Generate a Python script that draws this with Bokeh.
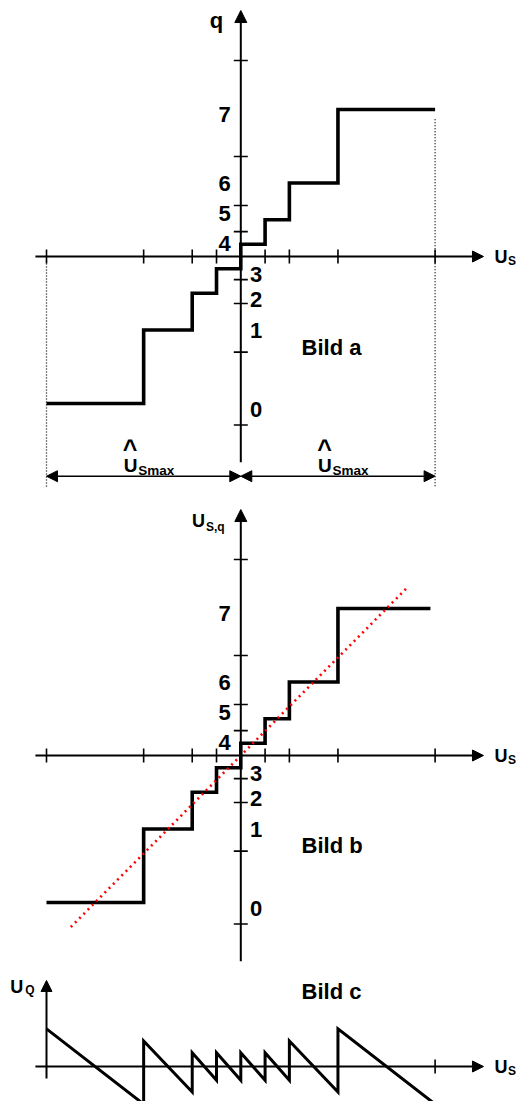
import numpy as np
from bokeh.plotting import figure
from bokeh.layouts import column
from bokeh.models import Arrow, NormalHead, Range1d
from bokeh.core.properties import value
from bokeh.embed import file_html
from bokeh.resources import INLINE

# ---- data (signal values in units of U_Smax) ----
# decision thresholds of the compressing 3-bit quantiser
edges = [-1.0, -0.5, -0.25, -0.125, 0.0, 0.125, 0.25, 0.5, 1.0]
# reconstruction level belonging to each code q = 0..7
levels = [-0.75, -0.375, -0.1875, -0.0625, 0.0625, 0.1875, 0.375, 0.75]
codes = ["0", "1", "2", "3", "4", "5", "6", "7"]
# scale marks on the vertical axis (Bild a, b)
y_marks = [1.0, 0.51, 0.26, 0.127, -0.118, -0.24, -0.488, -0.86]
# scale marks on the horizontal axis
x_marks = [-1.0, -0.5, -0.25, -0.125, 0.125, 0.25, 0.5, 1.0]
# last step of Bild b ends slightly before U_Smax
b_end = 0.976
# ideal (linear) characteristic drawn in Bild b
ideal_x = [-0.875, 0.86]
# sawtooth height of the quantisation error in every interval (Bild c)
err_amp = [0.192, 0.13, 0.07, 0.07, 0.07, 0.07, 0.13, 0.192]

# ---- drawing setup ----
W = 517
X0, SX, SY = 240.3, 194.3, 196.0       # y-axis position and pixels per unit
FONT = value("Liberation Sans")
AX_W = 2
x_rng = (-X0 / SX, (W - X0) / SX)
X_AX = (-1.057, 1.249)                  # horizontal axis extent
Y_AX = (-1.05, 1.255)                   # vertical axis extent (Bild a, b)


def make_fig(h, axis_px):
    p = figure(width=W, height=h, output_backend="svg", toolbar_location=None,
               x_range=Range1d(*x_rng),
               y_range=Range1d(-(h - axis_px) / SY, axis_px / SY),
               x_axis_location=None, y_axis_location=None,
               min_border=0, outline_line_color=None,
               background_fill_color="white", border_fill_color="white")
    p.grid.grid_line_color = None
    return p


def txt(p, x, y, s, size, dx=0, dy=0, align="left", baseline="alphabetic"):
    p.text(x=x, y=y, text=s, text_font=FONT, text_font_style="bold",
           text_font_size=size, text_align=align, text_baseline=baseline,
           x_offset=dx, y_offset=dy, text_color="black")


def head(size):
    return NormalHead(size=size, fill_color="black", line_color="black", line_width=1)


def arrow(p, x0, y0, x1, y1, size, width=AX_W, start=False):
    p.add_layout(Arrow(x_start=x0, y_start=y0, x_end=x1, y_end=y1,
                       end=head(size), start=head(size) if start else None,
                       line_color="black", line_width=width))


def cross_axes(p):
    arrow(p, X_AX[0], 0, X_AX[1], 0, 11)
    arrow(p, 0, Y_AX[0], 0, Y_AX[1], 12)
    p.scatter(x=[0] * len(y_marks), y=y_marks, marker="dash", size=14,
              line_color="black", line_width=1.6)
    p.scatter(x=x_marks, y=[0] * len(x_marks), marker="dash", size=14,
              angle=np.pi / 2, line_color="black", line_width=1.6)
    # abscissa label
    txt(p, [X_AX[1]], [0], ["U"], "18px", dx=11, dy=0.5)
    txt(p, [X_AX[1]], [0], ["S"], "12px", dx=24.5, dy=4)
    # code numbers next to the vertical axis
    lab_dy = [6.2, 0.3, 6.5, 5.9, -0.5, -6.75, 0, 5.2]
    lo = [i for i in range(8) if i < 4]
    hi = [i for i in range(8) if i >= 4]
    txt(p, [0] * 4, [levels[i] for i in lo], [codes[i] for i in lo], "22px",
        dx=9.2, dy=[lab_dy[i] for i in lo])
    txt(p, [0] * 4, [levels[i] for i in hi], [codes[i] for i in hi], "22px",
        dx=-10, dy=[lab_dy[i] for i in hi], align="right")


def staircase(p, x, y):
    p.step(x=x, y=y, mode="after", line_color="black", line_width=3.6,
           line_join="miter", line_cap="butt")


# ---------------- Bild a ----------------
pa = make_fig(499, 256)
cross_axes(pa)
staircase(pa, edges, levels + [levels[-1]])
txt(pa, [0], [Y_AX[1]], ["q"], "22px", dx=-24.3, dy=10, align="center")
txt(pa, [0.3125], [-0.5], ["Bild a"], "22px", dy=-7.5)

# dotted limits at +/- U_Smax
DIM_Y = -1.121
pa.line(x=[edges[0], edges[0]], y=[-0.02, -1.179], line_color="black",
        line_width=1.3, line_dash="1 2")
pa.line(x=[edges[-1], edges[-1]], y=[0.70, -1.179], line_color="black",
        line_width=1.3, line_dash="1 2")
# dimension arrows with the U_Smax labels
for a0, a1 in [(edges[0], 0.0), (0.0, edges[-1])]:
    arrow(pa, a0, DIM_Y, a1, DIM_Y, 11, width=1.5, start=True)
    mid = (a0 + a1) / 2
    txt(pa, [mid], [DIM_Y], ["U"], "19px", dx=-20, dy=-11)
    txt(pa, [mid], [DIM_Y], ["Smax"], "13.5px", dx=-5.5, dy=-6)
    txt(pa, [mid], [DIM_Y], ["^"], "25px", dx=-13.5, dy=-27, align="center")

# ---------------- Bild b ----------------
pb = make_fig(466, 256)
cross_axes(pb)
staircase(pb, edges[:-1] + [b_end], levels + [levels[-1]])
pb.line(x=ideal_x, y=ideal_x, line_color="red", line_width=2.6, line_dash="2 4")
txt(pb, [0], [Y_AX[1]], ["U"], "18px", dx=-48.9, dy=11.5)
txt(pb, [0], [Y_AX[1]], ["S,q"], "12px", dx=-34.8, dy=17)
txt(pb, [0.3125], [-0.5], ["Bild b"], "22px", dy=-8)

# ---------------- Bild c ----------------
pc = make_fig(136, 101)
arrow(pc, X_AX[0], 0, X_AX[1], 0, 11)
arrow(pc, edges[0], -0.061, edges[0], 0.439, 11)
pc.scatter(x=[x_marks[-1]], y=[0], marker="dash", size=14, angle=np.pi / 2,
           line_color="black", line_width=1.6)
saw_x, saw_y = [], []
for i, a in enumerate(err_amp):
    saw_x += [edges[i], edges[i + 1]]
    saw_y += [a, -a]
pc.line(x=saw_x, y=saw_y, line_color="black", line_width=3,
        line_join="miter", line_cap="butt")
txt(pc, [edges[0]], [0.439], ["U"], "18px", dx=-36.3, dy=6.5)
txt(pc, [edges[0]], [0.439], ["Q"], "12px", dx=-21.2, dy=10)
txt(pc, [X_AX[1]], [0], ["U"], "18px", dx=11, dy=0.5)
txt(pc, [X_AX[1]], [0], ["S"], "12px", dx=24.5, dy=4)
txt(pc, [0.3125], [0.337], ["Bild c"], "22px", dy=-8.5)

layout = column(pa, pb, pc, spacing=0)
open("out.html", "w").write(file_html(layout, INLINE))
